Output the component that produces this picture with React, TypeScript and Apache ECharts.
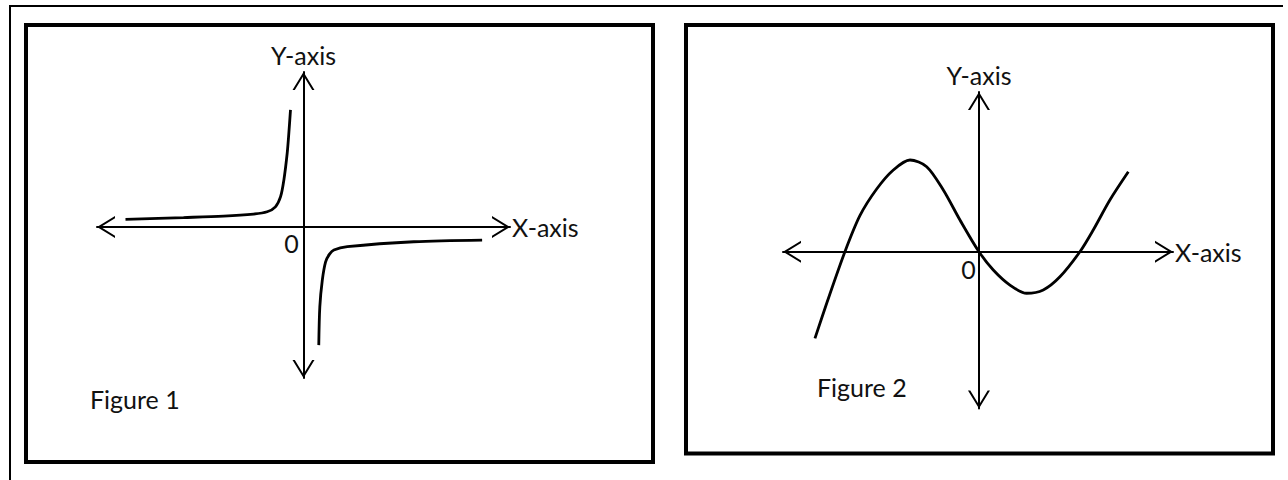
import React, { useEffect, useRef } from "react";
import * as echarts from "echarts";

// Figure 1: two branches of a hyperbola-like curve
const fig1LeftX = [-8.62, -5.81, -3.87, -2.42, -1.76, -1.36, -1.11, -0.95, -0.79, -0.71, -0.63];
const fig1LeftY = [0.37, 0.46, 0.53, 0.63, 0.74, 0.98, 1.47, 2.28, 3.57, 4.54, 5.67];
const fig1RightX = [0.74, 0.79, 0.91, 1.07, 1.26, 1.47, 2.12, 5.34, 8.65];
const fig1RightY = [-5.71, -3.86, -2.57, -1.68, -1.31, -1.11, -0.95, -0.71, -0.63];

// Figure 2: cubic-like curve
const fig2X = [-8.37, -7.77, -6.84, -6.07, -5.22, -4.37, -3.52, -2.67, -1.82, -0.97, 0, 0.73, 1.58, 2.43, 3.28, 4.13, 5.15, 5.83, 6.68, 7.62];
const fig2Y = [-4.42, -2.63, 0, 1.85, 3.2, 4.17, 4.68, 4.34, 3.15, 1.62, 0, -0.93, -1.7, -2.12, -1.95, -1.28, 0, 1.11, 2.64, 4.08];

// Axis ranges
const fig1XRange = [-10, 10];
const fig1YRange = [-7.3, 7.5];
const fig2XRange = [-10, 9.9];
const fig2YRange = [-8, 8.15];

// Texts
const xAxisName = "X-axis";
const yAxisName = "Y-axis";
const originLabel = "0";
const figureTitles = ["Figure 1", "Figure 2"];

const FONT = "Lato, 'Noto Sans', sans-serif";
const FONT_SIZE = 25;
const chevron = "path://M11,0 L22,18 L19.7,18 L11,3.8 L2.3,18 L0,18 Z";

function makeAxis(gridIndex: number, range: number[], name: string, isX: boolean) {
  return {
    type: "value",
    gridIndex,
    min: range[0],
    max: range[1],
    name,
    nameLocation: "end",
    nameGap: isX ? 2 : 5,
    nameTextStyle: {
      fontFamily: FONT,
      fontSize: FONT_SIZE,
      color: "#111",
      lineHeight: FONT_SIZE,
      padding: isX ? [0, 0, 5, 0] : 0,
    },
    axisLine: {
      show: true,
      onZero: true,
      symbol: [chevron, chevron],
      symbolSize: [22, 18],
      symbolOffset: [9, -9],
      lineStyle: { color: "#000", width: 2 },
    },
    axisTick: { show: false },
    axisLabel: { show: false },
    splitLine: { show: false },
  };
}

function zip(xs: number[], ys: number[]) {
  return xs.map((x, i) => [x, ys[i]]);
}

function curve(data: number[][], idx: number, smooth: number) {
  return {
    type: "line",
    xAxisIndex: idx,
    yAxisIndex: idx,
    data,
    showSymbol: false,
    smooth,
    silent: true,
    lineStyle: { color: "#000", width: 2.8 },
  };
}

export default function App() {
  const ref = useRef<HTMLDivElement>(null);
  useEffect(() => {
    if (!ref.current) return;
    const chart = echarts.init(ref.current, undefined, { renderer: "svg" });
    const textStyle = (text: string, x: number, y: number, align: string) => ({
      type: "text",
      style: {
        text,
        x,
        y,
        fill: "#111",
        font: `${FONT_SIZE}px ${FONT}`,
        textAlign: align,
        textVerticalAlign: "middle",
      },
    });
    chart.setOption({
      animation: false,
      backgroundColor: "#fff",
      grid: [
        { left: 97, top: 72, width: 413, height: 306, outerBoundsMode: "none" },
        { left: 783, top: 92, width: 390, height: 316.5, outerBoundsMode: "none" },
      ],
      xAxis: [
        makeAxis(0, fig1XRange, xAxisName, true),
        makeAxis(1, fig2XRange, xAxisName, true),
      ],
      yAxis: [
        makeAxis(0, fig1YRange, yAxisName, false),
        makeAxis(1, fig2YRange, yAxisName, false),
      ],
      series: [
        curve(zip(fig1LeftX, fig1LeftY), 0, 0.3),
        curve(zip(fig1RightX, fig1RightY), 0, 0.3),
        curve(zip(fig2X, fig2Y), 1, 0.3),
      ],
      graphic: [
        { type: "line", shape: { x1: 9, y1: 6, x2: 1283, y2: 6 }, style: { stroke: "#000", lineWidth: 2 } },
        { type: "line", shape: { x1: 10, y1: 5, x2: 10, y2: 480 }, style: { stroke: "#000", lineWidth: 2 } },
        { type: "rect", shape: { x: 26, y: 25, width: 627, height: 437 }, style: { fill: "transparent", stroke: "#000", lineWidth: 4 } },
        { type: "rect", shape: { x: 686, y: 25, width: 587, height: 428.5 }, style: { fill: "transparent", stroke: "#000", lineWidth: 4 } },
        textStyle(originLabel, 291.5, 242.5, "center"),
        textStyle(originLabel, 968.5, 268.5, "center"),
        textStyle(figureTitles[0], 90, 398.5, "left"),
        textStyle(figureTitles[1], 817, 386.5, "left"),
      ],
    });
    return () => chart.dispose();
  }, []);
  return (
    <div
      ref={ref}
      style={{ position: "absolute", left: 0, top: 0, width: 1288, height: 480, background: "#fff" }}
    />
  );
}
